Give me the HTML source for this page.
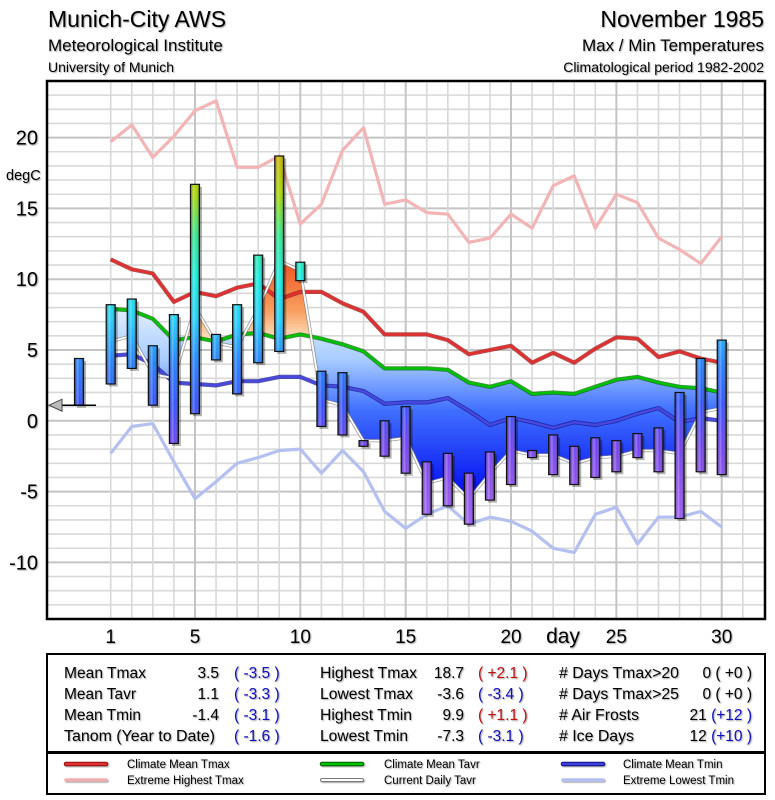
<!DOCTYPE html>
<html><head><meta charset="utf-8">
<style>
body{margin:0;background:#fff;}
svg{display:block;font-family:"Liberation Sans",sans-serif;}
.sh{filter:drop-shadow(1px 1px 0.6px rgba(0,0,0,0.35));}
</style></head>
<body>
<svg id="chart" width="775" height="800" viewBox="0 0 775 800" xmlns="http://www.w3.org/2000/svg">
<defs>
  <linearGradient id="barGrad" gradientUnits="userSpaceOnUse" x1="0" y1="152" x2="0" y2="534">
    <stop offset="0" stop-color="#d0b000"/>
    <stop offset="0.11" stop-color="#a8d800"/>
    <stop offset="0.22" stop-color="#30e890"/>
    <stop offset="0.33" stop-color="#10f0e0"/>
    <stop offset="0.44" stop-color="#20d0ff"/>
    <stop offset="0.55" stop-color="#2080ff"/>
    <stop offset="0.66" stop-color="#3050ff"/>
    <stop offset="0.77" stop-color="#7040f0"/>
    <stop offset="0.88" stop-color="#9050f0"/>
    <stop offset="1" stop-color="#a060ff"/>
  </linearGradient>
  <linearGradient id="barShade" x1="0" y1="0" x2="1" y2="0">
    <stop offset="0" stop-color="#000" stop-opacity="0.3"/>
    <stop offset="0.35" stop-color="#fff" stop-opacity="0.3"/>
    <stop offset="0.6" stop-color="#fff" stop-opacity="0.0"/>
    <stop offset="1" stop-color="#000" stop-opacity="0.55"/>
  </linearGradient>
  <linearGradient id="blueFill" gradientUnits="userSpaceOnUse" x1="0" y1="300" x2="0" y2="500">
    <stop offset="0" stop-color="#e8f4ff"/>
    <stop offset="0.3" stop-color="#a8ccff"/>
    <stop offset="0.55" stop-color="#4070ff"/>
    <stop offset="1" stop-color="#0008f0"/>
  </linearGradient>
  <linearGradient id="orangeFill" gradientUnits="userSpaceOnUse" x1="0" y1="260" x2="0" y2="345">
    <stop offset="0" stop-color="#f05020"/>
    <stop offset="0.6" stop-color="#f8a060"/>
    <stop offset="1" stop-color="#fff0d8"/>
  </linearGradient>
  <clipPath id="plotClip"><rect x="47" y="81" width="718" height="538"/></clipPath>
  <clipPath id="aboveClip"><polygon id="aboveClipPoly" points=""/></clipPath>
  <clipPath id="belowClip"><polygon id="belowClipPoly" points=""/></clipPath>
</defs>

<g class="sh">
  <text x="48" y="27" font-size="23">Munich-City AWS</text>
  <text x="48" y="51" font-size="17">Meteorological Institute</text>
  <text x="48" y="72" font-size="14">University of Munich</text>
  <text x="764" y="27" font-size="23" text-anchor="end">November 1985</text>
  <text x="764" y="51" font-size="17" text-anchor="end">Max / Min Temperatures</text>
  <text x="764" y="72" font-size="14" text-anchor="end">Climatological period 1982-2002</text>
</g>

<rect x="47" y="81" width="718" height="538" fill="#fff"/>
<g id="grid"></g>
<g id="marks" clip-path="url(#plotClip)"></g>
<rect x="47" y="81" width="718" height="538" fill="none" stroke="#000" stroke-width="2.5"/>
<g id="axes" class="sh"></g>

<g>
  <rect x="47" y="654" width="718" height="98" fill="#fff" stroke="#000" stroke-width="2"/>
  <g class="sh" font-size="15.5">
    <text x="64" y="678" textLength="82" lengthAdjust="spacingAndGlyphs">Mean Tmax</text>
    <text x="64" y="699" textLength="72" lengthAdjust="spacingAndGlyphs">Mean Tavr</text>
    <text x="64" y="720" textLength="77" lengthAdjust="spacingAndGlyphs">Mean Tmin</text>
    <text x="64" y="741" textLength="151" lengthAdjust="spacingAndGlyphs">Tanom (Year to Date)</text>
    <g text-anchor="end">
      <text x="219" y="678">3.5</text>
      <text x="219" y="699">1.1</text>
      <text x="219" y="720">-1.4</text>
    </g>
    <g fill="#1010c0">
      <text x="234" y="678">( -3.5 )</text>
      <text x="234" y="699">( -3.3 )</text>
      <text x="234" y="720">( -3.1 )</text>
      <text x="234" y="741">( -1.6 )</text>
    </g>
    <text x="320" y="678" textLength="97" lengthAdjust="spacingAndGlyphs">Highest Tmax</text>
    <text x="320" y="699" textLength="93" lengthAdjust="spacingAndGlyphs">Lowest Tmax</text>
    <text x="320" y="720" textLength="92" lengthAdjust="spacingAndGlyphs">Highest Tmin</text>
    <text x="320" y="741" textLength="88" lengthAdjust="spacingAndGlyphs">Lowest Tmin</text>
    <g text-anchor="end">
      <text x="464" y="678">18.7</text>
      <text x="464" y="699">-3.6</text>
      <text x="464" y="720">9.9</text>
      <text x="464" y="741">-7.3</text>
    </g>
    <text x="478" y="678" fill="#c01010">( +2.1 )</text>
    <text x="478" y="699" fill="#1010c0">( -3.4 )</text>
    <text x="478" y="720" fill="#c01010">( +1.1 )</text>
    <text x="478" y="741" fill="#1010c0">( -3.1 )</text>
    <text x="559" y="678" textLength="120" lengthAdjust="spacingAndGlyphs"># Days Tmax&gt;20</text>
    <text x="559" y="699" textLength="120" lengthAdjust="spacingAndGlyphs"># Days Tmax&gt;25</text>
    <text x="559" y="720" textLength="80" lengthAdjust="spacingAndGlyphs"># Air Frosts</text>
    <text x="559" y="741" textLength="75" lengthAdjust="spacingAndGlyphs"># Ice Days</text>
    <g text-anchor="end">
      <text x="752" y="678">0 ( +0 )</text>
      <text x="752" y="699">0 ( +0 )</text>
      <text x="752" y="720">21 <tspan fill="#1010c0">(+12 )</tspan></text>
      <text x="752" y="741">12 <tspan fill="#1010c0">(+10 )</tspan></text>
    </g>
  </g>
</g>

<g>
  <rect x="47" y="753" width="718" height="41" fill="#fff" stroke="#000" stroke-width="2"/>
  <g font-size="11.5" class="sh">
    <g><line x1="66" y1="764" x2="106" y2="764" stroke="#901010" stroke-width="4.5" stroke-linecap="round"/><line x1="66" y1="764" x2="106" y2="764" stroke="#e03030" stroke-width="2.5" stroke-linecap="round"/><text x="127" y="768">Climate Mean Tmax</text></g>
    <g><line x1="66" y1="780" x2="106" y2="780" stroke="#f0b0b0" stroke-width="3.5" stroke-linecap="round"/><text x="127" y="784">Extreme Highest Tmax</text></g>
    <g><line x1="322" y1="764" x2="362" y2="764" stroke="#006000" stroke-width="4.5" stroke-linecap="round"/><line x1="322" y1="764" x2="362" y2="764" stroke="#00c000" stroke-width="2.5" stroke-linecap="round"/><text x="384" y="768">Climate Mean Tavr</text></g>
    <g><line x1="322" y1="780" x2="362" y2="780" stroke="#777" stroke-width="4" stroke-linecap="round"/><line x1="322" y1="780" x2="362" y2="780" stroke="#fff" stroke-width="2" stroke-linecap="round"/><text x="384" y="784">Current Daily Tavr</text></g>
    <g><line x1="563" y1="764" x2="603" y2="764" stroke="#101080" stroke-width="4.5" stroke-linecap="round"/><line x1="563" y1="764" x2="603" y2="764" stroke="#4040e0" stroke-width="2.5" stroke-linecap="round"/><text x="623" y="768">Climate Mean Tmin</text></g>
    <g><line x1="563" y1="780" x2="603" y2="780" stroke="#b4c0f0" stroke-width="3.5" stroke-linecap="round"/><text x="623" y="784">Extreme Lowest Tmin</text></g>
  </g>
</g>

<script>
const days = [1,2,3,4,5,6,7,8,9,10,11,12,13,14,15,16,17,18,19,20,21,22,23,24,25,26,27,28,29,30];
const tmax = [8.2,8.6,5.3,7.5,16.7,6.1,8.2,11.7,18.7,11.2,3.5,3.4,-1.4,0.0,1.0,-2.9,-2.3,-3.7,-2.2,0.3,-2.1,-1.0,-1.8,-1.2,-1.4,-0.9,-0.5,2.0,4.4,5.7];
const tmin = [2.6,3.7,1.1,-1.6,0.5,4.3,1.9,4.1,4.9,9.9,-0.4,-1.0,-1.8,-2.5,-3.7,-6.6,-6.0,-7.3,-5.6,-4.5,-2.6,-3.8,-4.5,-4.0,-3.6,-2.6,-3.6,-6.9,-3.6,-3.8];
const tavr = [5.6,6.0,3.3,3.0,8.0,5.5,5.2,7.9,11.3,10.6,1.5,1.1,-1.4,-1.4,-1.2,-4.4,-4.0,-5.5,-3.7,-2.1,-2.4,-2.4,-3.0,-2.6,-2.5,-2.1,-2.1,-2.3,0.6,0.9];
const climTmax = [11.4,10.7,10.4,8.4,9.1,8.8,9.4,9.7,8.6,9.1,9.1,8.3,7.7,6.1,6.1,6.1,5.7,4.7,5.0,5.3,4.1,4.8,4.1,5.1,5.9,5.8,4.5,4.9,4.4,4.1];
const climTavr = [7.9,7.8,7.2,5.7,5.9,5.6,6.1,6.2,5.8,6.1,5.8,5.4,4.9,3.7,3.7,3.7,3.6,2.7,2.4,2.8,1.9,2.0,1.9,2.4,2.9,3.1,2.7,2.4,2.3,2.0];
const climTmin = [4.6,4.7,4.0,2.7,2.6,2.5,2.8,2.8,3.1,3.1,2.5,2.4,2.1,1.2,1.3,1.3,1.6,0.7,-0.3,0.2,-0.1,-0.5,-0.1,-0.3,0.0,0.5,0.9,-0.1,0.2,0.0];
const extMax = [19.7,20.9,18.6,20.1,21.9,22.6,17.9,17.9,18.7,13.9,15.3,19.1,20.7,15.3,15.6,14.7,14.6,12.6,12.9,14.6,13.6,16.6,17.3,13.6,16.0,15.4,12.9,12.1,11.1,13.0];
const extMin = [-2.3,-0.4,-0.2,-2.9,-5.5,-4.3,-3.0,-2.6,-2.1,-2.0,-3.7,-2.1,-3.6,-6.4,-7.6,-6.6,-6.0,-7.3,-6.8,-7.1,-7.8,-9.0,-9.3,-6.6,-6.1,-8.7,-6.8,-6.8,-6.4,-7.5];
const prevBar = [4.4, 1.1];
const tanomArrow = 1.1;
const yTicks = [20,15,10,5,0,-5,-10];
const xTicks = [1,5,10,15,20,25,30];

const NS = 'http://www.w3.org/2000/svg';
const X0 = 110.7, DX = 21.07, Y0 = 420.8, DY = 14.16;
function xs(d){ return X0 + (d-1)*DX; }
function ys(v){ return Y0 - v*DY; }
function mk(tag, attrs, parent){
  const e = document.createElementNS(NS, tag);
  for (const k in attrs) e.setAttribute(k, attrs[k]);
  parent.appendChild(e); return e;
}
const grid = document.getElementById('grid');
const marks = document.getElementById('marks');
const axes = document.getElementById('axes');

for (let v=-14; v<=24; v++){
  const l = mk('line',{x1:47,x2:765,y1:ys(v),y2:ys(v),stroke: v%5===0?'#c4c4c4':'#d8d8d8','stroke-width': v%5===0?2:1.6},grid);
  
  
}
for (let d=1; d<=31; d++){
  const l = mk('line',{x1:xs(d),x2:xs(d),y1:81,y2:619,stroke: d%5===0?'#c4c4c4':'#d8d8d8','stroke-width': d%5===0?2:1.6},grid);
  
  
}

function pts(arr){ return arr.map((v,i)=>xs(days[i]).toFixed(1)+','+ys(v).toFixed(1)).join(' '); }

const greenPts = pts(climTavr);
const tavrRev = tavr.map((v,i)=>[xs(days[i]),ys(v)]).reverse().map(p=>p[0].toFixed(1)+','+p[1].toFixed(1)).join(' ');
const between = greenPts + ' ' + tavrRev;
const x1 = xs(days[0]), x2 = xs(days[days.length-1]);
document.getElementById('aboveClipPoly').setAttribute('points', greenPts + ' ' + x2+',0 '+x1+',0');
document.getElementById('belowClipPoly').setAttribute('points', greenPts + ' ' + x2+',800 '+x1+',800');
const fb = mk('polygon',{points:between,fill:'url(#blueFill)','clip-path':'url(#belowClip)'},marks);


const fo = mk('polygon',{points:between,fill:'url(#orangeFill)','clip-path':'url(#aboveClip)'},marks);



function series(arr, color, w, name, outline){
  const g = mk('g',{},marks);
  
  
  if (outline) mk('polyline',{points:pts(arr),fill:'none',stroke:outline,'stroke-width':w+1.6,'stroke-linejoin':'round',opacity:0.7},g);
  mk('polyline',{points:pts(arr),fill:'none',stroke:color,'stroke-width':w,'stroke-linejoin':'round'},g);
}
series(extMax,'#f2b4b4',3.2,'extreme-highest-tmax-line');
series(extMin,'#b4c0f0',3.2,'extreme-lowest-tmin-line');
series(climTmax,'#e03030',2.6,'climate-mean-tmax-line','#901010');
series(climTavr,'#00c000',2.6,'climate-mean-tavr-line','#006000');
series(climTmin,'#4848e0',2.6,'climate-mean-tmin-line','#101080');
series(tavr,'#ffffff',1.8,'current-daily-tavr-line','#777');

function bar(x, top, bot, name){
  const g = mk('g',{},marks);
  
  
  const yt = ys(top), yb = ys(bot), w = 9;
  mk('rect',{x:x-w/2+2.5,y:yt+2.5,width:w,height:Math.max(yb-yt,1),fill:'#000',opacity:0.3},g);
  mk('rect',{x:x-w/2,y:yt,width:w,height:Math.max(yb-yt,1),fill:'url(#barGrad)'},g);
  mk('rect',{x:x-w/2,y:yt,width:w,height:Math.max(yb-yt,1),fill:'url(#barShade)',stroke:'#111','stroke-width':1.2},g);
}
days.forEach((d,i)=>bar(xs(d), tmax[i], tmin[i], 'bar-day-'+d));
bar(79, prevBar[0], prevBar[1], 'previous-period-bar');

const ag = mk('g',{},marks);


const ay = ys(tanomArrow);
mk('line',{x1:58,x2:96,y1:ay,y2:ay,stroke:'#000','stroke-width':1.5},ag);
mk('polygon',{points:`49,${ay} 62,${ay-6} 62,${ay+6}`,fill:'#bbb',stroke:'#444','stroke-width':1},ag);

yTicks.forEach(v=>{
  const t = mk('text',{x:38,y:ys(v)+7,'font-size':20,'text-anchor':'end'},axes);
  t.textContent = v;
  
  
});
const du = mk('text',{x:6,y:180,'font-size':14.5},axes);
du.textContent = 'degC';


xTicks.forEach(d=>{
  const t = mk('text',{x:xs(d),y:643,'font-size':19,'text-anchor':'middle'},axes);
  t.textContent = d;
  
  
});
const dl = mk('text',{x:563,y:643,'font-size':21,'text-anchor':'middle'},axes);
dl.textContent = 'day';


</script>
</svg>
</body></html>
